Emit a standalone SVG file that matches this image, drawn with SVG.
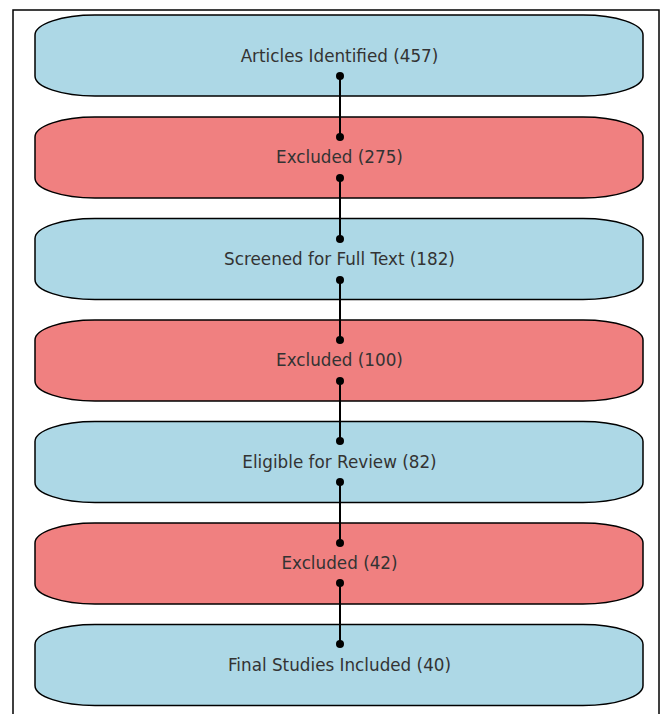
<svg xmlns="http://www.w3.org/2000/svg" width="662" height="714" viewBox="0 0 662 714">
<defs>
<style>
.box{stroke:#000;stroke-width:1.5}
.b{fill:#ADD8E6}
.r{fill:#F08080}
.t{font-family:"DejaVu Sans",sans-serif;font-size:16.8px;fill:#333;text-anchor:middle;dominant-baseline:central}
.c line{stroke:#000;stroke-width:2}
.c circle{fill:#000}
</style>
</defs>
<rect width="662" height="714" fill="#fff"/>
<rect x="13" y="10" width="646" height="720" fill="none" stroke="#000" stroke-width="1.5"/>
<g id="n1"><path class="box b" d="M95,15 H583 A60,20 0 0 1 643,35 V76 A60,20 0 0 1 583,96 H95 A60,20 0 0 1 35,76 V35 A60,20 0 0 1 95,15 Z"/><text class="t" x="339.5" y="55.5">Articles Identified (457)</text></g>
<g id="n2"><path class="box r" d="M95,117 H583 A60,20 0 0 1 643,137 V178 A60,20 0 0 1 583,198 H95 A60,20 0 0 1 35,178 V137 A60,20 0 0 1 95,117 Z"/><text class="t" x="339.5" y="157">Excluded (275)</text></g>
<g id="n3"><path class="box b" d="M95,218.5 H583 A60,20 0 0 1 643,238.5 V279.5 A60,20 0 0 1 583,299.5 H95 A60,20 0 0 1 35,279.5 V238.5 A60,20 0 0 1 95,218.5 Z"/><text class="t" x="339.5" y="258.5">Screened for Full Text (182)</text></g>
<g id="n4"><path class="box r" d="M95,320 H583 A60,20 0 0 1 643,340 V381 A60,20 0 0 1 583,401 H95 A60,20 0 0 1 35,381 V340 A60,20 0 0 1 95,320 Z"/><text class="t" x="339.5" y="360">Excluded (100)</text></g>
<g id="n5"><path class="box b" d="M95,421.5 H583 A60,20 0 0 1 643,441.5 V482.5 A60,20 0 0 1 583,502.5 H95 A60,20 0 0 1 35,482.5 V441.5 A60,20 0 0 1 95,421.5 Z"/><text class="t" x="339.5" y="461.5">Eligible for Review (82)</text></g>
<g id="n6"><path class="box r" d="M95,523 H583 A60,20 0 0 1 643,543 V584 A60,20 0 0 1 583,604 H95 A60,20 0 0 1 35,584 V543 A60,20 0 0 1 95,523 Z"/><text class="t" x="339.5" y="563">Excluded (42)</text></g>
<g id="n7"><path class="box b" d="M95,624.5 H583 A60,20 0 0 1 643,644.5 V685.5 A60,20 0 0 1 583,705.5 H95 A60,20 0 0 1 35,685.5 V644.5 A60,20 0 0 1 95,624.5 Z"/><text class="t" x="339.5" y="664.5">Final Studies Included (40)</text></g>
<g id="connectors" class="c">
<line x1="340" y1="76" x2="340" y2="137"/><circle cx="340" cy="76" r="4"/><circle cx="340" cy="137" r="4"/>
<line x1="340" y1="178" x2="340" y2="239"/><circle cx="340" cy="178" r="4"/><circle cx="340" cy="239" r="4"/>
<line x1="340" y1="280" x2="340" y2="340"/><circle cx="340" cy="280" r="4"/><circle cx="340" cy="340" r="4"/>
<line x1="340" y1="381" x2="340" y2="441"/><circle cx="340" cy="381" r="4"/><circle cx="340" cy="441" r="4"/>
<line x1="340" y1="482" x2="340" y2="543"/><circle cx="340" cy="482" r="4"/><circle cx="340" cy="543" r="4"/>
<line x1="340" y1="583" x2="340" y2="644"/><circle cx="340" cy="583" r="4"/><circle cx="340" cy="644" r="4"/>
</g>
</svg>
